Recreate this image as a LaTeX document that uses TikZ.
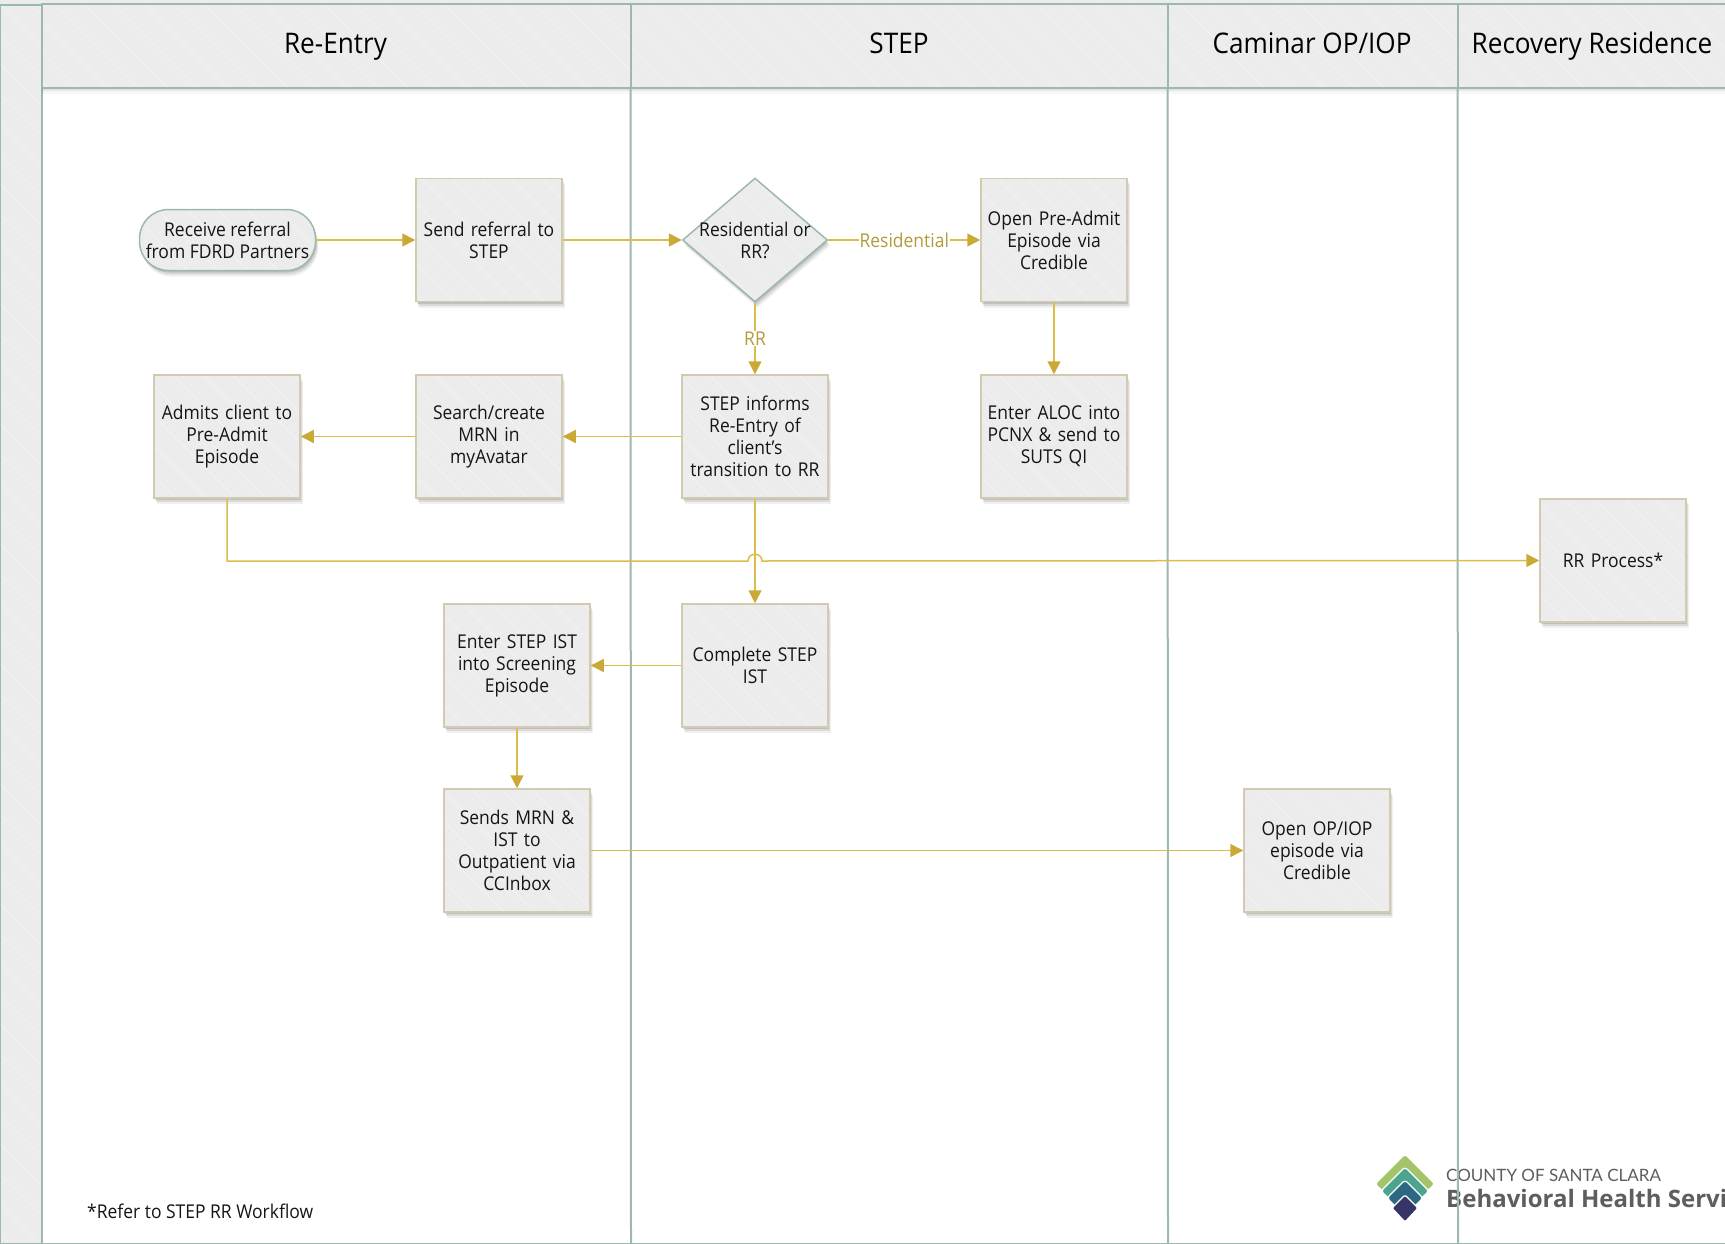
\documentclass[tikz,border=0pt]{standalone}
\usepackage{fontspec}
\setmainfont[FakeStretch=0.92]{Open Sans}
\newfontfamily\logofont{Lato}
\newfontfamily\logobold{Open Sans}
\usetikzlibrary{arrows.meta,shapes.geometric,shadows}
\definecolor{lanec}{HTML}{9DB8B0}
\definecolor{fillc}{HTML}{ECECEC}
\definecolor{hatchc}{HTML}{F2F2F2}
\definecolor{tanc}{HTML}{D3CBB0}
\definecolor{arrowc}{HTML}{CBA936}
\definecolor{linec}{HTML}{DCBC4C}
\definecolor{labelc}{HTML}{B39B3C}
\definecolor{inkc}{HTML}{151515}
\definecolor{logogray}{HTML}{5E5E60}
\tikzset{
  hatched/.style={path picture={
    \foreach \k in {-1500,-1470,...,1500}{
      \draw[hatchc,line width=1pt] (\k pt-1300pt,1300pt) -- (\k pt+1300pt,-1300pt);
    }}},
  softshadow/.style={
    general shadow={fill=black,opacity=.06,shadow xshift=2.5pt,shadow yshift=-6pt},
    general shadow={fill=black,opacity=.09,shadow xshift=2pt,shadow yshift=-4pt},
    general shadow={fill=black,opacity=.12,shadow xshift=1pt,shadow yshift=-2pt}},
  laneshadow/.style={
    general shadow={fill=black,opacity=.03,shadow yshift=-6pt},
    general shadow={fill=black,opacity=.07,shadow yshift=-3pt}},
  lane/.style={draw=lanec,line width=2pt,fill=fillc,hatched,inner sep=0pt,outer sep=0pt},
  lanetitle/.style={anchor=base,inner sep=0pt,text=black,font=\fontsize{28.4}{32}\selectfont},
  lanerule/.style={draw=lanec,line width=2pt},
  procbox/.style={rectangle,draw=tanc,line width=1.5pt,fill=fillc,hatched,softshadow,
    minimum width=145pt,minimum height=123pt,inner sep=3pt,align=center,text=inkc,text width=140pt,
    font=\fontsize{19}{22}\selectfont},
  decbox/.style={diamond,draw=lanec,line width=1.5pt,fill=fillc,hatched,softshadow,
    inner sep=-2.2pt,aspect=1.17,align=center,text=inkc,
    font=\fontsize{19}{22}\selectfont},
  termbox/.style={rectangle,rounded corners=29pt,draw=lanec,line width=1.5pt,fill=fillc,hatched,softshadow,
    minimum width=176pt,minimum height=61pt,inner sep=0pt,align=center,text=inkc,
    font=\fontsize{19}{22}\selectfont},
  flow/.style={draw=linec,line width=1.5pt,-{Triangle[length=13pt,width=13pt,color=arrowc]}},
  flowlabel/.style={fill=white,inner xsep=1pt,inner ysep=1pt,text=labelc,font=\fontsize{19}{22}\selectfont},
}
\begin{document}
\begin{tikzpicture}[x=1pt,y=-1pt]
\useasboundingbox (0,0) rectangle (1725,1244);
\clip (0,0) rectangle (1725,1244);
\fill[white] (0,0) rectangle (1725,1244);
\fill[fillc] (0,0) rectangle (1725,4);
% logo
\fill[rounded corners=3pt,draw=white,line width=1.2pt,fill={rgb,255:red,163;green,196;blue,104}] (1405,1154) -- (1435,1184) -- (1405,1211) -- (1375,1184) -- cycle;
\fill[rounded corners=3pt,draw=white,line width=1.2pt,fill={rgb,255:red,76;green,163;blue,143}] (1405,1167) -- (1429,1191) -- (1405,1214) -- (1381,1191) -- cycle;
\fill[rounded corners=3pt,draw=white,line width=1.2pt,fill={rgb,255:red,44;green,104;blue,128}] (1405,1180) -- (1423,1198) -- (1405,1216) -- (1387,1198) -- cycle;
\fill[rounded corners=2pt,draw=white,line width=1.2pt,fill={rgb,255:red,55;green,52;blue,104}] (1405,1195) -- (1418,1208) -- (1405,1222) -- (1392,1208) -- cycle;
\node[anchor=west,inner sep=0pt,text=logogray,font=\logofont\fontsize{17}{20}\selectfont] (logotop) at (1446,1175) {COUNTY OF SANTA CLARA};
\node[anchor=west,inner sep=0pt,text=logogray,font=\logobold\bfseries\fontsize{24}{28}\selectfont] (logomain) at (1446,1198) {Behavioral Health Servi};
% lanes
\node[lane,minimum width=42pt,minimum height=1240pt] (band) at (21,625) {};
\node[lane,laneshadow,minimum width=1684pt,minimum height=84pt] (hshade) at (883.5,46) {};
\node[lane,minimum width=589pt,minimum height=84pt] (h1) at (336,46) {};
\node[lane,minimum width=537pt,minimum height=84pt] (h2) at (899,46) {};
\node[lane,minimum width=290pt,minimum height=84pt] (h3) at (1312.5,46) {};
\node[lane,minimum width=290pt,minimum height=84pt] (h4) at (1602.5,46) {};
\node[lanetitle] (t1) at (335.5,54) {Re-Entry};
\node[lanetitle] (t2) at (899,54) {STEP};
\node[lanetitle] (t3) at (1312,54) {Caminar OP/IOP};
\node[lanetitle] (t4) at (1592,54) {Recovery Residence};
\draw[lanerule] (h1.south east) -- (631,1244);
\draw[lanerule] (h2.south east) -- (1168,1244);
\draw[lanerule] (h3.south east) -- (1458,1244);
\draw[lanerule] (0,1243.5) -- (1725,1243.5);
% shapes
\node[termbox] (recv) at (227.5,240) {Receive referral\\from FDRD Partners};
\node[procbox] (send) at (489,240) {Send referral to\\STEP};
\node[decbox] (dec) at (755,240) {Residential or\\RR?};
\node[procbox] (open) at (1054,240) {Open Pre-Admit\\Episode via\\Credible};
\node[procbox] (admit) at (227,436.5) {Admits client to\\Pre-Admit\\Episode};
\node[procbox] (search) at (489,436.5) {Search/create\\MRN in\\myAvatar};
\node[procbox] (inform) at (755,436.5) {STEP informs\\Re-Entry of\\client's\\transition to RR};
\node[procbox] (aloc) at (1054,436.5) {Enter ALOC into\\PCNX \& send to\\SUTS QI};
\node[procbox] (rr) at (1613,560.5) {RR Process*};
\node[procbox] (ist) at (755,665.5) {Complete STEP\\IST};
\node[procbox] (enter) at (517,665.5) {Enter STEP IST\\into Screening\\Episode};
\node[procbox] (mrn) at (517,850.5) {Sends MRN \&\\IST to\\Outpatient via\\CCInbox};
\node[procbox] (op) at (1317,850.5) {Open OP/IOP\\episode via\\Credible};
\coordinate (hopl) at (748,561);
\coordinate (hopr) at (762,561);
% connectors
\draw[flow] (recv) -- (send);
\draw[flow] (send) -- (dec);
\draw[flow] (dec) -- node[flowlabel] (lres) {Residential} (open);
\draw[flow] (dec) -- node[flowlabel] (lrr) {RR} (inform);
\draw[flow] (open) -- (aloc);
\draw[flow] (inform) -- (search);
\draw[flow] (search) -- (admit);
\draw[flow] (inform) -- (ist);
\draw[flow] (ist) -- (enter);
\draw[flow] (enter) -- (mrn);
\draw[flow] (mrn) -- (op);
\draw[flow] (admit.south) |- (hopl) .. controls (748,552) and (762,552) .. (hopr) -- (rr.west);
\node[anchor=west,inner sep=0pt,text=inkc,font=\fontsize{19}{22}\selectfont] (foot) at (87,1211) {*Refer to STEP RR Workflow};
\end{tikzpicture}
\end{document}
